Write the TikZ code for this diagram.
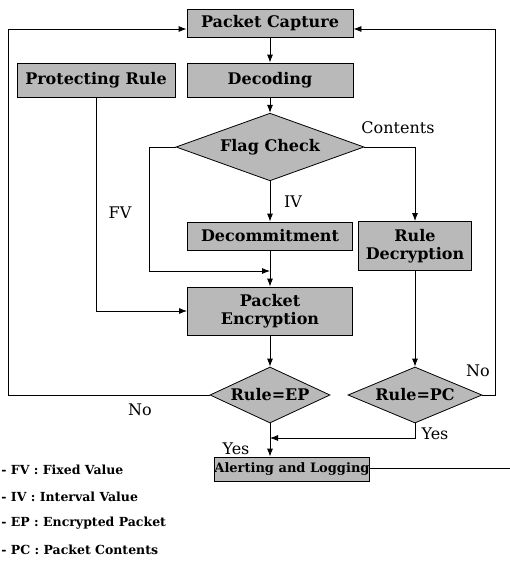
\documentclass[tikz,border=0pt]{standalone}
\usepackage{fontspec}
\setmainfont{DejaVu Serif}
\usetikzlibrary{shapes.geometric,arrows.meta}

\begin{document}
\begin{tikzpicture}[x=1pt,y=-1pt,line width=0.8pt,
    box/.style={draw,fill=gray!55,inner sep=1pt,align=center,font=\fontsize{16}{18}\selectfont\bfseries},
    test/.style={draw,fill=gray!55,shape=diamond,inner sep=0pt,inner xsep=-24pt,font=\fontsize{16}{18}\selectfont\bfseries},
    lbl/.style={font=\fontsize{16}{18}\selectfont},
    note/.style={anchor=west,inner sep=0pt,font=\fontsize{12.5}{14}\selectfont\bfseries},
    >={Latex[length=8pt,width=6pt]}]
      \useasboundingbox (0,0) rectangle (510,565) ;
      \node[box,minimum width=166pt,minimum height=28pt] (cap) at (270,23) {Packet Capture} ;
      \node[box,minimum width=158pt,minimum height=34pt] (prot) at (96,80) {Protecting Rule} ;
      \node[box,minimum width=166pt,minimum height=34pt] (dec) at (270,80) {Decoding} ;
      \node[test,minimum width=188pt,minimum height=58pt] (flag) at (270,147) {Flag Check} ;
      \node[box,minimum width=165pt,minimum height=28pt] (decom) at (270,236) {Decommitment} ;
      \node[box,minimum width=113pt,minimum height=49pt,inner sep=0pt] (rdec) at (415,246) {Rule\\Decryption} ;
      \node[box,minimum width=165pt,minimum height=48pt] (enc) at (270,311) {Packet\\Encryption} ;
      \node[test,minimum width=120pt,minimum height=56pt] (ep) at (270,395) {Rule=EP} ;
      \node[test,minimum width=134pt,minimum height=56pt] (pc) at (415,395) {Rule=PC} ;
      \node[box,minimum width=155pt,minimum height=24pt,inner sep=0pt,font=\fontsize{13}{15}\selectfont\bfseries] (alert) at (292,469) {Alerting and Logging} ;
      \coordinate (lt) at (8,29) ;
      \coordinate (rt) at (495,29) ;
      \coordinate (fvl) at (149,271) ;
      \coordinate (join) at (270,271) ;
      \coordinate (yes) at (270,438) ;
      \coordinate (out) at (510,468) ;
      \draw[->] (cap) -- (dec) ;
      \draw[->] (dec) -- (flag) ;
      \draw[->] (flag) -- (decom) ;
      \draw[->] (flag.west) -| (fvl) -- (join) ;
      \draw[->] (decom) -- (enc) ;
      \draw[->] (prot.south) |- (enc.west) ;
      \draw[->] (flag.east) -| (rdec.north) ;
      \draw[->] (rdec) -- (pc) ;
      \draw[->] (enc) -- (ep) ;
      \draw[->] (ep.west) -| (lt) -- (cap.west |- lt) ;
      \draw[->] (pc.east) -| (rt) -- (cap.east |- rt) ;
      \draw[->] (pc.south) |- (yes) ;
      \draw[->] (ep.south) -- (ep.south |- alert.north) ;
      \draw (alert.east |- out) -- (out) ;
      \node[lbl] (contents) at (398,128) {Contents} ;
      \node[lbl] (iv) at (293,202) {IV} ;
      \node[lbl] (fv) at (120,213) {FV} ;
      \node[lbl] (no1) at (140,410) {No} ;
      \node[lbl] (no2) at (478,371) {No} ;
      \node[lbl] (yes1) at (236,449) {Yes} ;
      \node[lbl] (yes2) at (435,434) {Yes} ;
      \node[note] (fvnote) at (1,470) {- FV : Fixed Value} ;
      \node[note] (ivnote) at (1,497) {- IV : Interval Value} ;
      \node[note] (epnote) at (1,523) {- EP : Encrypted Packet} ;
      \node[note] (pcnote) at (1,550) {- PC : Packet Contents} ;
    \end{tikzpicture}
\end{document}
